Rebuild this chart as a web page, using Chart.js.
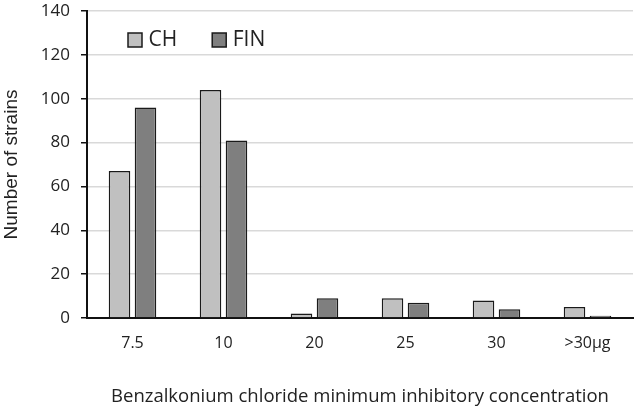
<!DOCTYPE html>
<html>
<head>
<meta charset="utf-8">
<script src="https://cdn.jsdelivr.net/npm/chart.js@4.4.1/dist/chart.umd.min.js"></script>
<style>
  html, body { margin: 0; padding: 0; background: #fff; }
  #wrap { width: 638px; height: 410px; }
</style>
</head>
<body>
<div id="wrap"><canvas id="barchart"></canvas></div>
<script>
// values
const categories = ['7.5', '10', '20', '25', '30', '>30\u00b5g'];
const chValues = [67, 104, 2, 9, 8, 5];
const finValues = [96, 81, 9, 7, 4, 1];
const yTicks = [0, 20, 40, 60, 80, 100, 120, 140];

const FONT = "'Open Sans', sans-serif";
const TEXT = '#222';

// legend sits inside the plot, one row, top-left like the original
const legendInside = {
    id: 'legendInside',
    beforeLayout(chart) {
        if (chart.legend) chart.legend.isHorizontal = () => true;
    },
    afterLayout(chart) {
        const l = chart.legend;
        if (!l) return;
        const left = 93, top = -9.5;
        l.left = left; l.right = left + 546;
        l.top = top; l.bottom = top + 80;
    }
};

const ctx2 = document.getElementById('barchart').getContext('2d');
const barchart = new Chart(ctx2, {
    type: 'bar',
    data: {
        labels: categories,
        datasets: [{
            label: 'CH',
            data: chValues,
            backgroundColor: '#c0c0c0',
            borderColor: '#1a1a1a',
            borderWidth: 1.5
        }, {
            label: 'FIN',
            data: finValues,
            backgroundColor: '#7f7f7f',
            borderColor: '#1a1a1a',
            borderWidth: 1.5
        }]
    },
    options: {
        responsive: true,
        maintainAspectRatio: false,
        animation: false,
        datasets: {
            bar: { categoryPercentage: 0.571, barPercentage: 0.83 }
        },
        layout: { padding: { left: 0, right: 5, top: 11, bottom: 0 } },
        plugins: {
            tooltip: { enabled: false },
            legend: {
                position: 'chartArea',
                align: 'start',
                labels: {
                    usePointStyle: true,
                    pointStyle: 'rect',
                    boxWidth: 6,
                    boxHeight: 14,
                    padding: 39,
                    color: TEXT,
                    font: { family: FONT, size: 21 }
                }
            }
        },
        scales: {
            x: {
                grid: { display: false, drawTicks: false },
                border: { display: true, color: '#111', width: 2 },
                ticks: { color: TEXT, padding: 16, font: { family: FONT, size: 16 } },
                title: {
                    display: true,
                    text: 'Benzalkonium chloride minimum inhibitory concentration',
                    color: TEXT,
                    font: { family: FONT, size: 18.5 },
                    padding: { top: 0, bottom: 2 }
                },
                afterFit(scale) {
                    scale.height = 92;
                    scale.paddingLeft = 0;
                    scale.paddingRight = 0;
                }
            },
            y: {
                min: 0,
                max: 140,
                afterBuildTicks(scale) {
                    scale.ticks = yTicks.map(v => ({ value: v }));
                },
                grid: { color: '#d9d9d9', lineWidth: 1.5, tickLength: 6, tickColor: '#111' },
                border: { display: true, color: '#111', width: 2 },
                ticks: { color: TEXT, padding: 11, font: { family: FONT, size: 17 } },
                title: {
                    display: true,
                    text: 'Number of strains',
                    color: TEXT,
                    font: { family: "'Liberation Sans', Arial, sans-serif", size: 19 },
                    padding: { top: 0, bottom: 0 }
                },
                afterFit(scale) {
                    scale.width = 87;
                    scale.paddingTop = 0;
                    scale.paddingBottom = 0;
                }
            }
        }
    },
    plugins: [legendInside]
});
</script>
</body>
</html>
